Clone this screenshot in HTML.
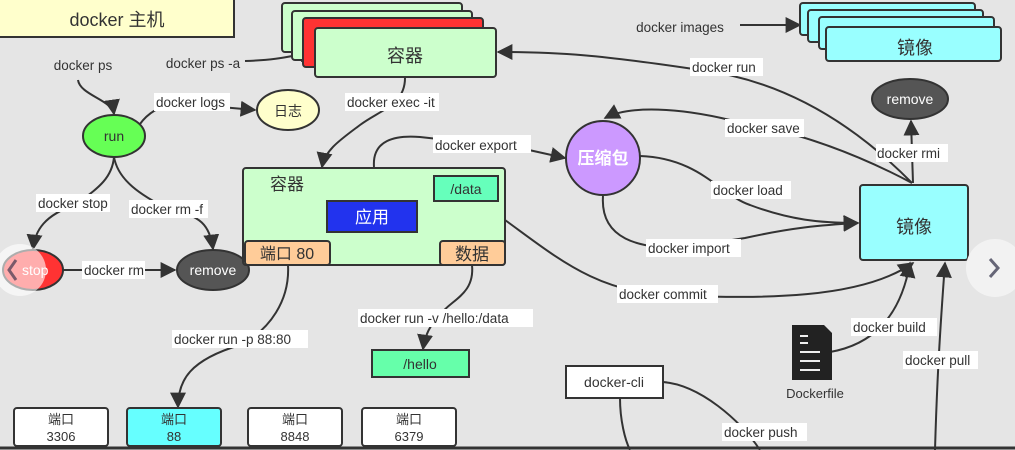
<!DOCTYPE html>
<html><head><meta charset="utf-8"><style>
html,body{margin:0;padding:0;background:#e5e5e5}
svg{display:block}
text{font-family:"Liberation Sans","Noto Sans CJK SC",sans-serif;fill:#333}
.l{font-size:13.5px}
</style></head><body>
<svg width="1015" height="450" viewBox="0 0 1015 450" xmlns="http://www.w3.org/2000/svg">
<defs><marker id="a" viewBox="0 0 10 10" refX="9" refY="5" markerWidth="8" markerHeight="8" orient="auto"><path d="M0,0L10,5L0,10z" fill="#333"/></marker></defs>
<rect width="1015" height="450" fill="#e5e5e5"/>
<g fill="none" stroke="#333" stroke-width="2">
<path d="M78,80 C80,95 112,100 114,114" marker-end="url(#a)"/>
<path d="M245,61 C280,60 290,56 314,52" marker-end="url(#a)"/>
<path d="M140,124 C150,110 165,105 175,103 L255,110" marker-end="url(#a)"/>
<path d="M114,157 C112,180 95,190 75,205 C45,215 35,230 33,249" marker-end="url(#a)"/>
<path d="M114,157 C118,180 140,195 170,210 C200,215 210,225 213,249" marker-end="url(#a)"/>
<path d="M63,270 L175,270" marker-end="url(#a)"/>
<path d="M405,78 C405,105 380,110 360,125 C340,140 325,150 322,167" marker-end="url(#a)"/>
<path d="M374,167 C372,140 395,135 420,137 L520,148 L565,158" marker-end="url(#a)"/>
<path d="M912,183 C850,120 780,80 700,70 C600,55 560,52 498,52" marker-end="url(#a)"/>
<path d="M912,183 C850,150 790,130 730,120 C680,108 630,105 605,118" marker-end="url(#a)"/>
<path d="M913,183 L911,121" marker-end="url(#a)"/>
<path d="M640,156 C700,158 720,195 750,205 C790,220 820,223 858,223" marker-end="url(#a)"/>
<path d="M603,196 C600,240 640,248 680,248 L745,238 C790,228 820,225 858,223" marker-end="url(#a)"/>
<path d="M505,220 C560,260 600,295 680,296 C760,298 860,300 913,263" marker-end="url(#a)"/>
<path d="M830,352 C870,345 900,320 910,263" marker-end="url(#a)"/>
<path d="M935,450 C937,380 940,330 945,263" marker-end="url(#a)"/>
<path d="M740,25 L800,25" marker-end="url(#a)"/>
<path d="M327,216 C300,216 290,225 288,240" marker-end="url(#a)"/>
<path d="M417,216 C470,216 475,225 476,240" marker-end="url(#a)"/>
<path d="M466,201 C466,215 470,228 474,240" marker-end="url(#a)"/>
<path d="M288,265 C290,300 270,330 240,345 C190,360 178,380 178,407" marker-end="url(#a)"/>
<path d="M472,265 C475,295 450,300 440,315 C430,325 425,335 423,349" marker-end="url(#a)"/>
<path d="M663,382 C700,385 740,420 760,450"/>
<path d="M620,398 C620,420 625,440 630,450"/>
</g>
<rect x="-2" y="-2" width="236" height="39" fill="#ffffcc" stroke="#333" stroke-width="2"/>
<text x="117" y="26" font-size="18" text-anchor="middle">docker 主机</text>
<g stroke="#333" stroke-width="2">
<rect x="282" y="3" width="180" height="49" rx="3" fill="#ccffcc"/>
<rect x="292" y="11" width="180" height="49" rx="3" fill="#ccffcc"/>
<rect x="303" y="18" width="180" height="49" rx="3" fill="#ff3333"/>
<rect x="315" y="28" width="181" height="49" rx="3" fill="#ccffcc"/>
<rect x="800" y="3" width="175" height="32" rx="3" fill="#99ffff"/>
<rect x="808" y="10" width="175" height="32" rx="3" fill="#99ffff"/>
<rect x="819" y="17" width="175" height="32" rx="3" fill="#99ffff"/>
<rect x="826" y="27" width="175" height="34" rx="3" fill="#99ffff"/>
<ellipse cx="114" cy="136" rx="31" ry="21" fill="#66ff55"/>
<ellipse cx="288" cy="110" rx="31" ry="20" fill="#ffffcc"/>
<ellipse cx="33" cy="270" rx="30" ry="20" fill="#ff3333"/>
<ellipse cx="213" cy="270" rx="36" ry="20" fill="#555"/>
<ellipse cx="910" cy="99" rx="38" ry="20" fill="#555"/>
<circle cx="603" cy="158" r="37" fill="#cc99ff"/>
<rect x="243" y="168" width="262" height="97" rx="3" fill="#ccffcc"/>
<rect x="434" y="176" width="64" height="25" fill="#66ffbb"/>
<rect x="327" y="201" width="90" height="31" fill="#2233ee"/>
<rect x="245" y="241" width="85" height="24" rx="3" fill="#ffcc99"/>
<rect x="440" y="241" width="65" height="24" rx="3" fill="#ffcc99"/>
<rect x="860" y="185" width="108" height="75" rx="3" fill="#99ffff"/>
<rect x="372" y="350" width="97" height="27" fill="#66ffaa"/>
<rect x="14" y="408" width="94" height="38" rx="3" fill="#fff"/>
<rect x="127" y="408" width="94" height="38" rx="3" fill="#66ffff"/>
<rect x="248" y="408" width="94" height="38" rx="3" fill="#fff"/>
<rect x="362" y="408" width="94" height="38" rx="3" fill="#fff"/>
<rect x="566" y="366" width="97" height="32" fill="#fff"/>
</g>
<path d="M792,325 L824,325 L832,333 L832,380 L792,380z" fill="#222"/>
<g stroke="#eee" stroke-width="2"><path d="M800,336h8M800,343h8M800,352h20M800,361h20M800,370h20"/></g>
<line x1="0" y1="448" x2="1015" y2="448" stroke="#333" stroke-width="3"/>
<text x="405" y="62" font-size="18" text-anchor="middle">容器</text>
<text x="915" y="54" font-size="18" text-anchor="middle">镜像</text>
<text x="914" y="233" font-size="18" text-anchor="middle">镜像</text>
<text x="114" y="141" font-size="14" text-anchor="middle">run</text>
<text x="288" y="116" font-size="14" text-anchor="middle">日志</text>
<text x="213" y="275" font-size="14" text-anchor="middle" style="fill:#fff">remove</text>
<text x="910" y="104" font-size="14" text-anchor="middle" style="fill:#fff">remove</text>
<text x="603" y="164" font-size="17" font-weight="bold" text-anchor="middle" style="fill:#fff">压缩包</text>
<text x="270" y="190" font-size="17">容器</text>
<text x="466" y="194" font-size="14" text-anchor="middle">/data</text>
<text x="372" y="223" font-size="17" text-anchor="middle" style="fill:#fff">应用</text>
<text x="287" y="259" font-size="16" text-anchor="middle">端口 80</text>
<text x="472" y="260" font-size="17" text-anchor="middle">数据</text>
<text x="420" y="369" font-size="14" text-anchor="middle">/hello</text>
<g font-size="13" text-anchor="middle">
<text x="61" y="424">端口</text><text x="61" y="441">3306</text>
<text x="174" y="424">端口</text><text x="174" y="441">88</text>
<text x="295" y="424">端口</text><text x="295" y="441">8848</text>
<text x="409" y="424">端口</text><text x="409" y="441">6379</text>
</g>
<text x="614" y="387" font-size="14" text-anchor="middle">docker-cli</text>
<text x="815" y="398" font-size="13" text-anchor="middle">Dockerfile</text>
<g class="l" text-anchor="middle">
<text x="83" y="70">docker ps</text>
<text x="203" y="68">docker ps -a</text>
<text x="680" y="32">docker images</text>
</g>
<g class="l">
<g fill="#fff">
<rect x="154" y="93" width="76" height="18"/><rect x="345" y="93" width="94" height="18"/>
<rect x="36" y="194" width="74" height="18"/><rect x="129" y="200" width="79" height="18"/>
<rect x="82" y="261" width="63" height="18"/><rect x="433" y="135" width="98" height="18"/>
<rect x="690" y="58" width="73" height="18"/><rect x="725" y="119" width="79" height="18"/>
<rect x="876" y="144" width="72" height="18"/><rect x="711" y="181" width="80" height="18"/>
<rect x="646" y="239" width="95" height="18"/><rect x="617" y="285" width="101" height="18"/>
<rect x="172" y="330" width="136" height="18"/><rect x="358" y="309" width="175" height="18"/>
<rect x="851" y="318" width="86" height="18"/><rect x="903" y="351" width="75" height="18"/>
<rect x="722" y="423" width="85" height="18"/>
</g>
<text x="156" y="107">docker logs</text>
<text x="347" y="107">docker exec -it</text>
<text x="38" y="208">docker stop</text>
<text x="131" y="214">docker rm -f</text>
<text x="84" y="275">docker rm</text>
<text x="435" y="150">docker export</text>
<text x="692" y="72">docker run</text>
<text x="727" y="133">docker save</text>
<text x="877" y="158">docker rmi</text>
<text x="713" y="195">docker load</text>
<text x="648" y="253">docker import</text>
<text x="619" y="299">docker commit</text>
<text x="174" y="344">docker run -p 88:80</text>
<text x="360" y="323">docker run -v /hello:/data</text>
<text x="853" y="332">docker build</text>
<text x="905" y="365">docker pull</text>
<text x="724" y="437">docker push</text>
</g>
<circle cx="20" cy="270" r="26" fill="#fff" opacity="0.6"/>
<path d="M16,260 L9,270 L16,280" fill="none" stroke="#7a5a6a" stroke-width="3"/>
<text x="22" y="275" font-size="14" style="fill:#fff">stop</text>
<circle cx="995" cy="268" r="29" fill="#f2f2f2"/>
<path d="M990,259 L998,268 L990,277" fill="none" stroke="#667" stroke-width="3"/>
</svg>
</body></html>
